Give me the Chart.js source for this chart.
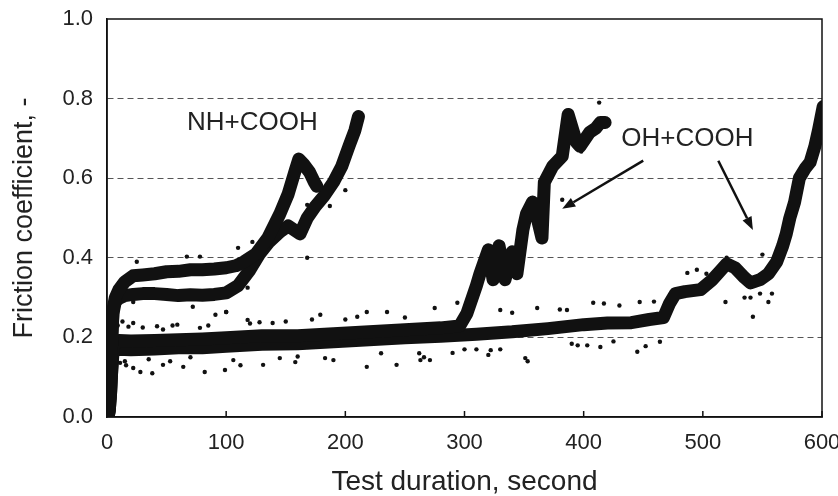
<!DOCTYPE html>
<html>
<head>
<meta charset="utf-8">
<script src="https://cdn.jsdelivr.net/npm/chart.js@4"></script>
<style>
  body { margin: 0; background: #fff; }
  #wrap { width: 838px; height: 496px; }
</style>
</head>
<body>
<div id="wrap"><canvas id="chartFriction" width="838" height="496"></canvas></div>
<script>
// NH+COOH, upper band (peaks near 160 s)
const nhUpperX = [1, 2, 3, 4, 5, 7, 10, 15, 22, 30, 40, 50, 60, 70, 80, 90, 100, 108, 115, 125, 135, 145, 152, 158, 161, 165, 170, 174, 176];
const nhUpperY = [0.0, 0.03, 0.1, 0.2, 0.27, 0.3, 0.32, 0.34, 0.355, 0.357, 0.36, 0.365, 0.366, 0.37, 0.37, 0.372, 0.375, 0.38, 0.39, 0.41, 0.45, 0.51, 0.56, 0.62, 0.648, 0.635, 0.615, 0.59, 0.58];

// NH+COOH, lower band (ends near 210 s)
const nhLowerX = [1, 2, 3, 4, 5, 7, 10, 15, 22, 30, 40, 50, 60, 70, 80, 90, 100, 110, 120, 128, 136, 145, 152, 157, 162, 168, 175, 182, 190, 197, 203, 208, 211];
const nhLowerY = [0.0, 0.03, 0.1, 0.2, 0.26, 0.29, 0.298, 0.305, 0.308, 0.31, 0.31, 0.308, 0.305, 0.307, 0.306, 0.308, 0.312, 0.33, 0.37, 0.41, 0.44, 0.465, 0.48, 0.47, 0.46, 0.5, 0.53, 0.555, 0.59, 0.63, 0.68, 0.72, 0.755];

// OH+COOH, first run (ends near 420 s)
const ohShortX = [1, 2, 3, 4, 5, 7, 10, 20, 40, 60, 80, 100, 130, 160, 190, 220, 250, 280, 296, 302, 310, 313, 320, 324, 329, 334, 340, 344, 349, 352, 357, 361, 365, 367, 374, 382, 387, 394, 397, 405, 410, 414, 418];
const ohShortY = [0.0, 0.02, 0.06, 0.12, 0.17, 0.19, 0.192, 0.191, 0.192, 0.194, 0.196, 0.199, 0.204, 0.204, 0.209, 0.214, 0.219, 0.224, 0.229, 0.26, 0.33, 0.36, 0.42, 0.345, 0.43, 0.345, 0.415, 0.36, 0.47, 0.51, 0.54, 0.5, 0.45, 0.59, 0.63, 0.655, 0.76, 0.69, 0.68, 0.715, 0.725, 0.74, 0.74];

// OH+COOH, second run (runs to 600 s)
const ohLongX = [1, 2, 3, 4, 5, 7, 10, 20, 40, 60, 80, 100, 130, 160, 190, 220, 250, 280, 310, 340, 370, 400, 420, 440, 455, 467, 472, 477, 485, 498, 508, 514, 520, 527, 535, 540, 548, 555, 562, 567, 570, 573, 577, 581, 586, 590, 594, 597, 599, 601];
const ohLongY = [0.0, 0.02, 0.06, 0.12, 0.16, 0.168, 0.17, 0.169, 0.171, 0.174, 0.174, 0.178, 0.183, 0.184, 0.189, 0.194, 0.199, 0.203, 0.208, 0.214, 0.222, 0.232, 0.236, 0.237, 0.245, 0.25, 0.285, 0.31, 0.315, 0.32, 0.345, 0.365, 0.385, 0.375, 0.35, 0.337, 0.345, 0.36, 0.39, 0.43, 0.46, 0.5, 0.54, 0.6, 0.625, 0.64, 0.68, 0.72, 0.75, 0.78];

// scattered single readings
const outlierX = [13, 22, 47, 59, 78, 91, 100, 118, 139, 179, 210, 218, 235, 275, 294, 330, 361, 386, 408, 447, 487, 495, 519, 542, 555, 550,
  11, 22, 28, 38, 47, 64, 82, 99, 106, 131, 145, 158, 190, 218, 243, 263, 271, 290, 320, 351, 414, 445, 464,
  25, 67, 78, 110, 122, 22, 72, 100, 118, 168, 168, 187, 200, 413, 398, 382,
  30, 55, 120, 150, 200, 250, 300, 340, 380, 430, 470, 520, 560, 15, 35, 70, 160, 230, 300, 330, 395, 425, 540,
  9, 18, 42, 85, 128, 172, 262, 266, 322, 353, 403, 417, 452, 459, 535, 548, 558, 16, 53, 112, 183, 310, 390, 503];
const outlierY = [0.24, 0.236, 0.22, 0.232, 0.224, 0.257, 0.264, 0.244, 0.236, 0.257, 0.252, 0.264, 0.264, 0.274, 0.287, 0.269, 0.274, 0.269, 0.287, 0.289, 0.362, 0.37, 0.289, 0.252, 0.289, 0.408,
  0.136, 0.123, 0.113, 0.11, 0.131, 0.126, 0.113, 0.118, 0.143, 0.131, 0.148, 0.138, 0.143, 0.126, 0.131, 0.143, 0.143, 0.161, 0.156, 0.148, 0.176, 0.164, 0.189,
  0.39, 0.403, 0.403, 0.425, 0.44, 0.289, 0.277, 0.264, 0.325, 0.4, 0.533, 0.53, 0.57, 0.79, 0.667, 0.546,
  0.225, 0.23, 0.235, 0.24, 0.245, 0.25, 0.255, 0.262, 0.27, 0.28, 0.29, 0.4, 0.4, 0.14, 0.145, 0.15, 0.152, 0.16, 0.17, 0.17, 0.18, 0.19, 0.3,
  0.23, 0.227, 0.228, 0.23, 0.238, 0.245, 0.16, 0.15, 0.168, 0.14, 0.18, 0.285, 0.178, 0.29, 0.3, 0.31, 0.31, 0.13, 0.14, 0.13, 0.148, 0.17, 0.184, 0.36];

const xTicks = [0, 100, 200, 300, 400, 500, 600];
const yTicks = [0, 0.2, 0.4, 0.6, 0.8, 1.0];

// labels and arrows, in data units
const labelText = ["NH+COOH", "OH+COOH"];
const labelX = [122, 487];
const labelY = [0.74, 0.70];
const arrowFromX = [450, 513];
const arrowFromY = [0.644, 0.644];
const arrowToX = [382, 542];
const arrowToY = [0.523, 0.47];

const ink = "#111";
const fontName = "'Liberation Sans', Arial, sans-serif";

const toPoints = (xs, ys) => xs.map((x, i) => ({ x: x, y: ys[i] }));

const bandStyle = (width) => ({
    showLine: true,
    borderColor: ink,
    backgroundColor: ink,
    borderWidth: width,
    borderJoinStyle: "round",
    borderCapStyle: "round",
    pointRadius: 0,
    tension: 0,
});

// inward x ticks, plot frame, labels and arrows
const extrasPlugin = {
    id: "extras",
    afterDatasetsDraw(chart) {
        const { ctx, chartArea, scales } = chart;
        ctx.save();
        ctx.strokeStyle = ink;
        ctx.lineWidth = 1.5;
        ctx.strokeRect(chartArea.left, chartArea.top, chartArea.right - chartArea.left, chartArea.bottom - chartArea.top);

        xTicks.forEach(v => {
            const px = scales.x.getPixelForValue(v);
            ctx.beginPath();
            ctx.moveTo(px, chartArea.bottom);
            ctx.lineTo(px, chartArea.bottom - 6);
            ctx.stroke();
        });

        ctx.fillStyle = "#222";
        ctx.font = "26px " + fontName;
        ctx.textAlign = "center";
        ctx.textBaseline = "middle";
        labelText.forEach((t, i) => {
            ctx.fillText(t, scales.x.getPixelForValue(labelX[i]), scales.y.getPixelForValue(labelY[i]));
        });

        ctx.strokeStyle = ink;
        ctx.fillStyle = ink;
        ctx.lineWidth = 2.5;
        arrowFromX.forEach((fx, i) => {
            const x1 = scales.x.getPixelForValue(fx);
            const y1 = scales.y.getPixelForValue(arrowFromY[i]);
            const x2 = scales.x.getPixelForValue(arrowToX[i]);
            const y2 = scales.y.getPixelForValue(arrowToY[i]);
            const a = Math.atan2(y2 - y1, x2 - x1);
            const hl = 13, hw = 5;
            const bx = x2 - hl * Math.cos(a), by = y2 - hl * Math.sin(a);
            ctx.beginPath();
            ctx.moveTo(x1, y1);
            ctx.lineTo(bx, by);
            ctx.stroke();
            ctx.beginPath();
            ctx.moveTo(x2, y2);
            ctx.lineTo(bx + hw * Math.sin(a), by - hw * Math.cos(a));
            ctx.lineTo(bx - hw * Math.sin(a), by + hw * Math.cos(a));
            ctx.closePath();
            ctx.fill();
        });
        ctx.restore();
    }
};

const chartFriction = new Chart(document.getElementById("chartFriction"), {
    type: "scatter",
    data: {
        datasets: [
            { label: "NH+COOH upper", data: toPoints(nhUpperX, nhUpperY), ...bandStyle(13) },
            { label: "NH+COOH lower", data: toPoints(nhLowerX, nhLowerY), ...bandStyle(13) },
            { label: "OH+COOH run 1", data: toPoints(ohShortX, ohShortY), ...bandStyle(13) },
            { label: "OH+COOH run 2", data: toPoints(ohLongX, ohLongY), ...bandStyle(13) },
            {
                label: "scatter",
                data: toPoints(outlierX, outlierY),
                pointRadius: 2.2,
                pointBorderWidth: 0,
                backgroundColor: ink,
                borderColor: ink,
            },
        ]
    },
    options: {
        responsive: false,
        animation: false,
        devicePixelRatio: 1,
        layout: { padding: { left: 4, right: 16, top: 19, bottom: 0 } },
        plugins: {
            legend: { display: false },
            tooltip: { enabled: false },
        },
        scales: {
            x: {
                type: "linear",
                min: 0,
                max: 600,
                afterBuildTicks: (s) => { s.ticks = xTicks.map(v => ({ value: v })); },
                afterFit: (s) => { s.height = 79; s.paddingLeft = 0; s.paddingRight = 0; },
                ticks: { color: "#222", font: { family: fontName, size: 22 }, padding: 5, maxRotation: 0 },
                grid: { display: false },
                border: { display: true, color: ink, width: 1.5 },
                title: {
                    display: true,
                    text: "Test duration, second",
                    color: "#222",
                    font: { family: fontName, size: 28, lineHeight: 1 },
                    padding: { top: 0, bottom: 0 },
                },
            },
            y: {
                min: 0,
                max: 1,
                afterBuildTicks: (s) => { s.ticks = yTicks.map(v => ({ value: v })); },
                afterFit: (s) => { s.width = 103; s.paddingTop = 0; s.paddingBottom = 0; },
                ticks: {
                    color: "#222",
                    font: { family: fontName, size: 22 },
                    padding: 14,
                    callback: (v) => Number(v).toFixed(1),
                },
                grid: {
                    drawTicks: false,
                    lineWidth: 1,
                    color: (c) => (c.tick && (c.tick.value === 0 || c.tick.value === 1)) ? "rgba(0,0,0,0)" : "#555",
                },
                border: { display: true, color: ink, width: 1.5, dash: [6, 4] },
                title: {
                    display: true,
                    text: "Friction coefficient, -",
                    color: "#222",
                    font: { family: fontName, size: 27, lineHeight: 1.2 },
                    padding: { top: 4, bottom: 4 },
                },
            },
        },
    },
    plugins: [extrasPlugin],
});
</script>
</body>
</html>
